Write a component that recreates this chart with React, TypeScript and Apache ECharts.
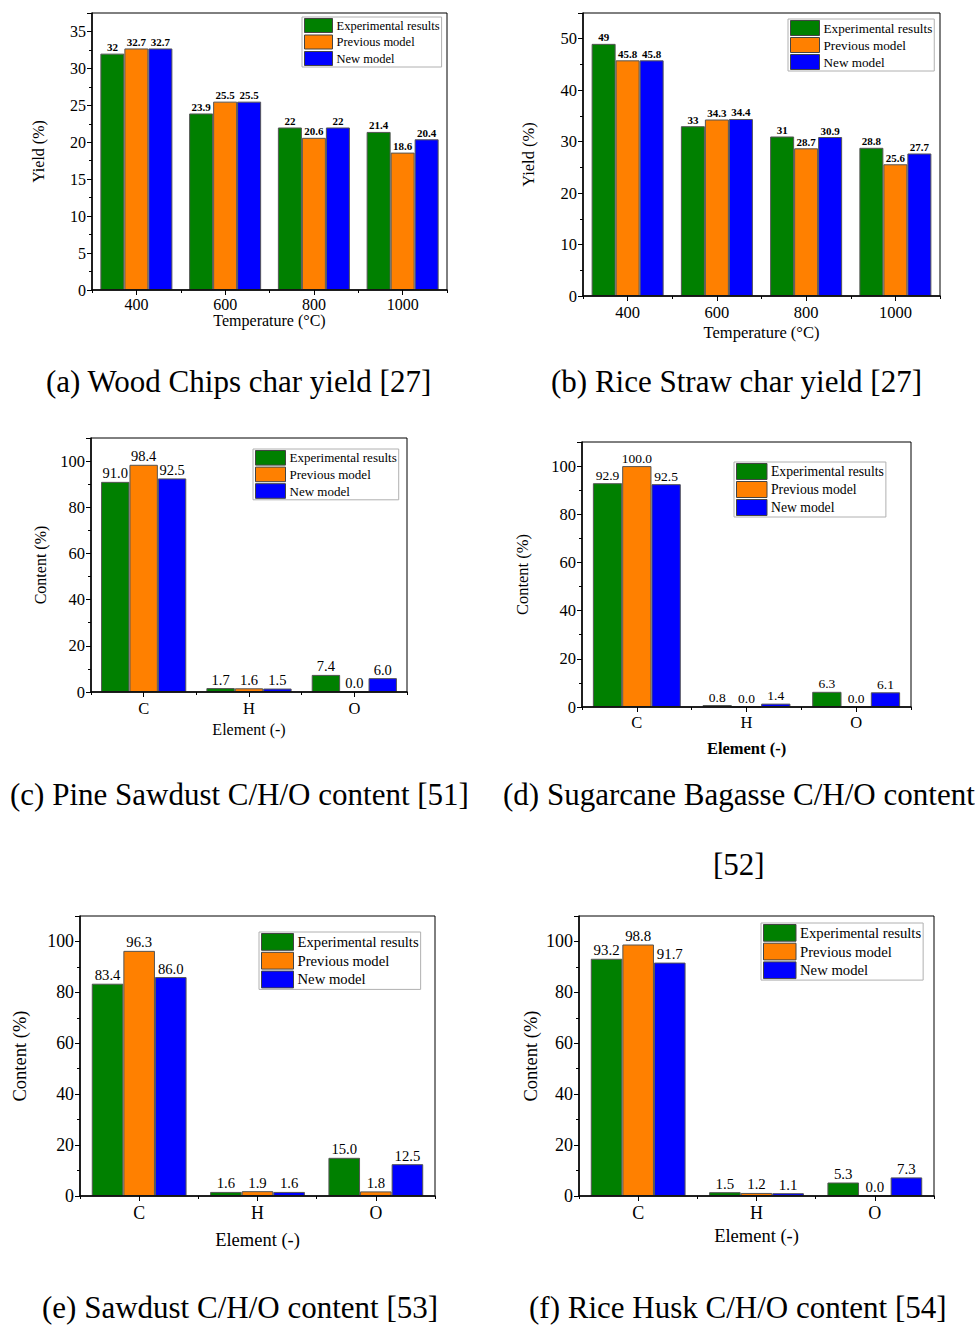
import React, { useEffect, useRef } from 'react';
import * as echarts from 'echarts';

const FONT = '"Liberation Serif", "Times New Roman", Times, serif';

const seriesNames = ['Experimental results', 'Previous model', 'New model'];
const seriesColors = ['#008000', '#FF8000', '#0000FF'];

const temperatureCategories = ['400', '600', '800', '1000'];
const elementCategories = ['C', 'H', 'O'];

// (a) Wood Chips char yield
const woodExperimental = [32, 23.9, 22, 21.4];
const woodPrevious = [32.7, 25.5, 20.6, 18.6];
const woodNew = [32.7, 25.5, 22, 20.4];

// (b) Rice Straw char yield
const strawExperimental = [49, 33, 31, 28.8];
const strawPrevious = [45.8, 34.3, 28.7, 25.6];
const strawNew = [45.8, 34.4, 30.9, 27.7];

// (c) Pine Sawdust C/H/O
const pineExperimental = [91.0, 1.7, 7.4];
const pinePrevious = [98.4, 1.6, 0.0];
const pineNew = [92.5, 1.5, 6.0];

// (d) Sugarcane Bagasse C/H/O
const bagasseExperimental = [92.9, 0.8, 6.3];
const bagassePrevious = [100.0, 0.0, 0.0];
const bagasseNew = [92.5, 1.4, 6.1];

// (e) Sawdust C/H/O
const sawdustExperimental = [83.4, 1.6, 15.0];
const sawdustPrevious = [96.3, 1.9, 1.8];
const sawdustNew = [86.0, 1.6, 12.5];

// (f) Rice Husk C/H/O
const huskExperimental = [93.2, 1.5, 5.3];
const huskPrevious = [98.8, 1.2, 0.0];
const huskNew = [91.7, 1.1, 7.3];

const panels = [
  {
    cats: temperatureCategories, data: [woodExperimental, woodPrevious, woodNew],
    grid: { left: 92, top: 13, width: 355, height: 277 },
    yMax: 37.5, yInterval: 5, xName: 'Temperature (°C)', yName: 'Yield (%)',
    xNameBold: false, barWidth: 24, labelSize: 11, labelBold: true, intLabels: true,
    tickSize: 16, titleSize: 16, xLabelMargin: 6, xNameGap: 22, yNameGap: 46,
    legend: { left: 302, top: 17, w: 28, h: 14, gap: 1.5, font: 12.5 },
  },
  {
    cats: temperatureCategories, data: [strawExperimental, strawPrevious, strawNew],
    grid: { left: 583, top: 13, width: 357, height: 283 },
    yMax: 55, yInterval: 10, xName: 'Temperature (°C)', yName: 'Yield (%)',
    xNameBold: false, barWidth: 24, labelSize: 11, labelBold: true, intLabels: true,
    tickSize: 16.5, titleSize: 16.5, xLabelMargin: 8, xNameGap: 28, yNameGap: 46,
    legend: { left: 788, top: 19, w: 29, h: 15, gap: 1, font: 13.2 },
  },
  {
    cats: elementCategories, data: [pineExperimental, pinePrevious, pineNew],
    grid: { left: 91, top: 438, width: 316, height: 254 },
    yMax: 110, yInterval: 20, xName: 'Element (-)', yName: 'Content (%)',
    xNameBold: false, barWidth: 28.4, labelSize: 14.5, labelBold: false, intLabels: false,
    tickSize: 16.5, titleSize: 16, xLabelMargin: 8, xNameGap: 29, yNameGap: 43,
    legend: { left: 253, top: 449, w: 30, h: 14.6, gap: 1, font: 13 },
  },
  {
    cats: elementCategories, data: [bagasseExperimental, bagassePrevious, bagasseNew],
    grid: { left: 582, top: 442, width: 329, height: 265 },
    yMax: 110, yInterval: 20, xName: 'Element (-)', yName: 'Content (%)',
    xNameBold: true, barWidth: 29.3, labelSize: 13.5, labelBold: false, intLabels: false,
    tickSize: 16.5, titleSize: 16.5, xLabelMargin: 7, xNameGap: 33, yNameGap: 51,
    legend: { left: 734, top: 462, w: 30.5, h: 16, gap: 1, font: 13.7 },
  },
  {
    cats: elementCategories, data: [sawdustExperimental, sawdustPrevious, sawdustNew],
    grid: { left: 80, top: 916, width: 355, height: 280 },
    yMax: 110, yInterval: 20, xName: 'Element (-)', yName: 'Content (%)',
    xNameBold: false, barWidth: 31.6, labelSize: 14.7, labelBold: false, intLabels: false,
    tickSize: 17.8, titleSize: 18.5, xLabelMargin: 8, xNameGap: 34, yNameGap: 51,
    legend: { left: 259, top: 932, w: 32, h: 16.8, gap: 1, font: 14.7 },
  },
  {
    cats: elementCategories, data: [huskExperimental, huskPrevious, huskNew],
    grid: { left: 579, top: 916, width: 355, height: 280 },
    yMax: 110, yInterval: 20, xName: 'Element (-)', yName: 'Content (%)',
    xNameBold: false, barWidth: 31.6, labelSize: 14.9, labelBold: false, intLabels: false,
    tickSize: 18, titleSize: 18.5, xLabelMargin: 8, xNameGap: 30, yNameGap: 39,
    legend: { left: 761, top: 923, w: 32.5, h: 16.7, gap: 1, font: 14.7 },
  },
];

const captions = [
  { text: '(a) Wood Chips char yield [27]', left: 46, top: 366 },
  { text: '(b) Rice Straw char yield [27]', left: 551, top: 366 },
  { text: '(c) Pine Sawdust C/H/O content [51]', left: 10, top: 779 },
  { text: '(d) Sugarcane Bagasse C/H/O content', left: 503, top: 779 },
  { text: '[52]', left: 713, top: 849 },
  { text: '(e) Sawdust C/H/O content [53]', left: 42, top: 1292 },
  { text: '(f) Rice Husk C/H/O content [54]', left: 529, top: 1292 },
];

function buildOption() {
  const grid: any[] = [];
  const xAxis: any[] = [];
  const xAxisMinor: any[] = [];
  const yAxis: any[] = [];
  const series: any[] = [];
  const legend: any[] = [];

  panels.forEach((p, i) => {
    grid.push({
      ...p.grid,
      show: true,
      borderColor: '#000',
      borderWidth: 1,
      backgroundColor: 'transparent',
      containLabel: false,
    });
    xAxis.push({
      type: 'category',
      gridIndex: i,
      data: p.cats,
      name: p.xName,
      nameLocation: 'middle',
      nameGap: p.xNameGap,
      nameTextStyle: {
        fontFamily: FONT,
        fontSize: p.titleSize,
        color: '#000',
        fontWeight: p.xNameBold ? 'bold' : 'normal',
      },
      axisLine: { lineStyle: { color: '#000', width: 1.5 } },
      axisTick: { show: true, alignWithLabel: true, length: 5, lineStyle: { color: '#000', width: 1 } },
      axisLabel: { fontFamily: FONT, fontSize: p.tickSize, color: '#000', margin: p.xLabelMargin },
      splitLine: { show: false },
      z: 3,
    });
    // boundary (minor) ticks between categories
    xAxisMinor.push({
      type: 'category',
      gridIndex: i,
      data: p.cats,
      position: 'bottom',
      axisLine: { show: false },
      axisTick: { show: true, alignWithLabel: false, length: 3, lineStyle: { color: '#000', width: 1 } },
      axisLabel: { show: false },
      splitLine: { show: false },
    });
    yAxis.push({
      type: 'value',
      gridIndex: i,
      min: 0,
      max: p.yMax,
      interval: p.yInterval,
      name: p.yName,
      nameLocation: 'middle',
      nameGap: p.yNameGap,
      nameRotate: 90,
      nameTextStyle: { fontFamily: FONT, fontSize: p.titleSize, color: '#000' },
      axisLine: { show: true, lineStyle: { color: '#000', width: 1.5 } },
      axisTick: { show: true, length: 5, lineStyle: { color: '#000', width: 1 } },
      minorTick: { show: true, splitNumber: 2, length: 3, lineStyle: { color: '#000', width: 1 } },
      axisLabel: {
        fontFamily: FONT,
        fontSize: p.tickSize,
        color: '#000',
        margin: 6,
        showMaxLabel: false,
      },
      splitLine: { show: false },
    });
    p.data.forEach((values, k) => {
      series.push({
        type: 'bar',
        name: seriesNames[k],
        xAxisIndex: i,
        yAxisIndex: i,
        data: values,
        barWidth: p.barWidth,
        barGap: '0%',
        itemStyle: { color: seriesColors[k], borderColor: '#555', borderWidth: 1 },
        label: {
          show: true,
          position: 'top',
          distance: 1,
          fontFamily: FONT,
          fontSize: p.labelSize,
          fontWeight: p.labelBold ? 'bold' : 'normal',
          color: '#000',
          formatter: (param: any) =>
            p.intLabels ? String(param.value) : Number(param.value).toFixed(1),
        },
      });
    });
    legend.push({
      show: true,
      orient: 'vertical',
      left: p.legend.left,
      top: p.legend.top,
      data: seriesNames,
      icon: 'rect',
      itemWidth: p.legend.w,
      itemHeight: p.legend.h,
      itemGap: p.legend.gap,
      padding: [1, 2, 1, 2],
      borderColor: '#b0b0b0',
      borderWidth: 1,
      backgroundColor: '#fff',
      selectedMode: false,
      itemStyle: { borderColor: '#444', borderWidth: 1 },
      textStyle: { fontFamily: FONT, fontSize: p.legend.font, color: '#000', padding: [0, 0, 0, -1] },
    });
  });

  const title = captions.map((c) => ({
    text: c.text,
    left: c.left,
    top: c.top,
    padding: 0,
    textStyle: {
      fontFamily: FONT,
      fontSize: 31,
      lineHeight: 31,
      fontWeight: 'normal',
      color: '#000',
    },
  }));

  return {
    animation: false,
    backgroundColor: '#fff',
    title,
    grid,
    xAxis: [...xAxis, ...xAxisMinor],
    yAxis,
    legend,
    series,
  };
}

export default function App() {
  const ref = useRef<HTMLDivElement>(null);
  useEffect(() => {
    if (!ref.current) return;
    const chart = echarts.init(ref.current, undefined, { renderer: 'svg' });
    chart.setOption(buildOption() as any);
    return () => chart.dispose();
  }, []);
  return (
    <div
      ref={ref}
      style={{ position: 'absolute', left: 0, top: 0, width: 975, height: 1326, background: '#fff' }}
    />
  );
}
